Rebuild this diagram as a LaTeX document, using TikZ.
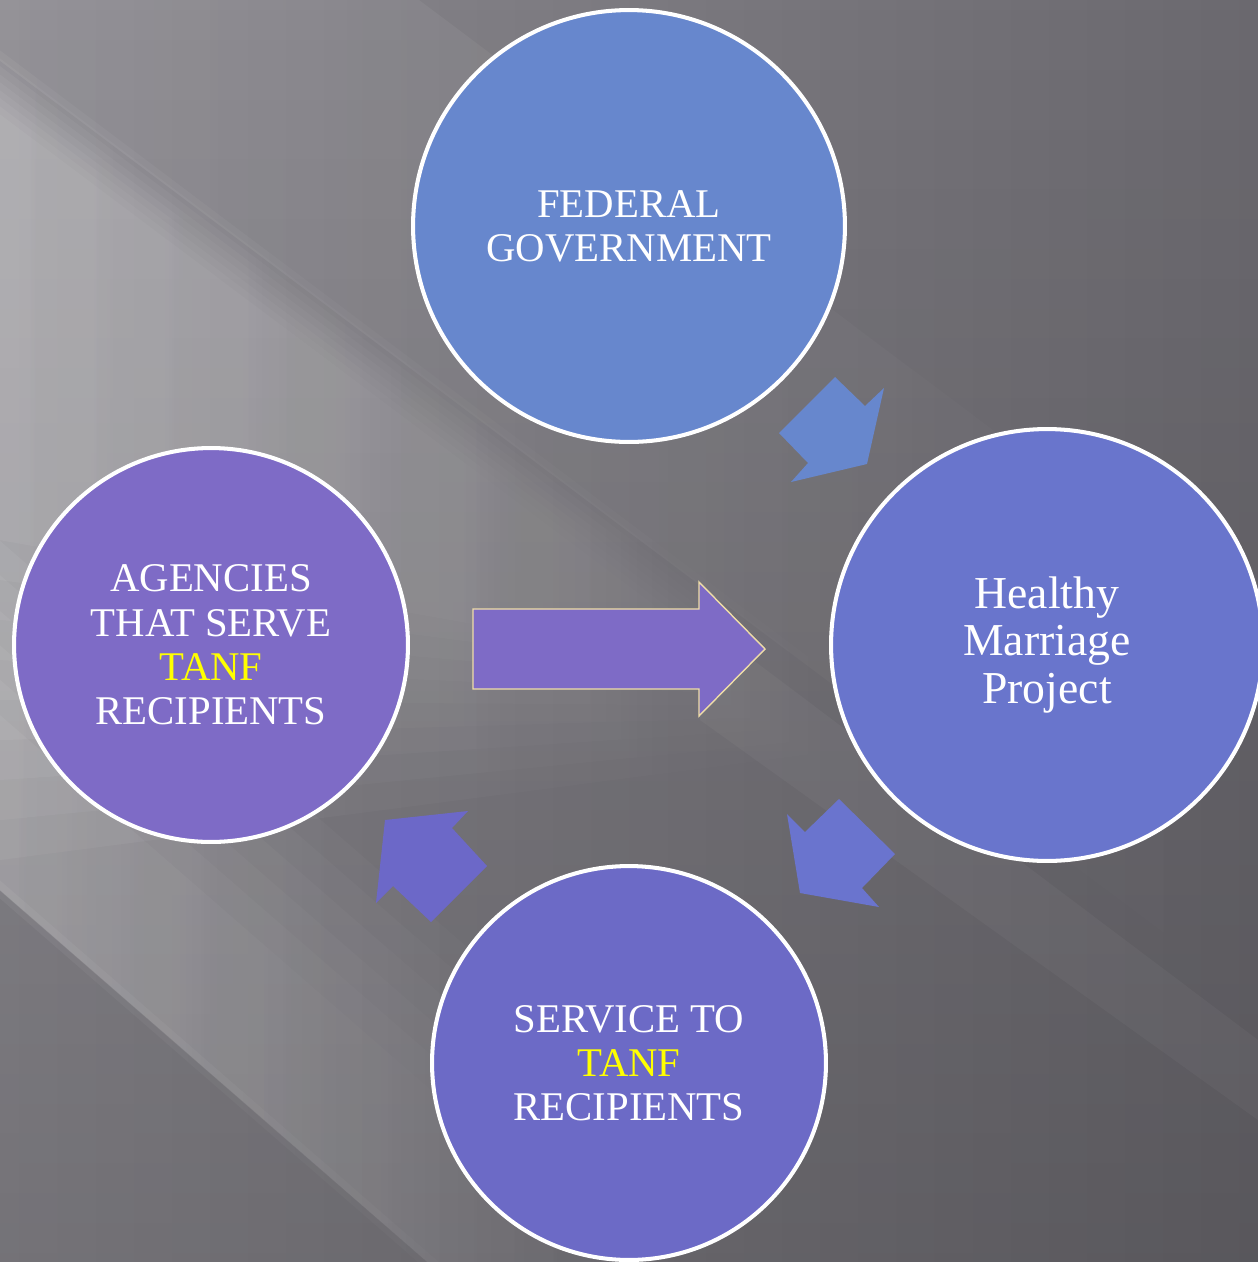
\documentclass[tikz,border=0pt]{standalone}
\usepackage{fontspec}
\setmainfont{Liberation Serif}
\usetikzlibrary{fadings}
\definecolor{bgL}{HTML}{8C8A90}
\definecolor{bgR}{HTML}{6B696F}
\definecolor{cTop}{HTML}{6787CD}
\definecolor{cRight}{HTML}{6975CC}
\definecolor{cLeft}{HTML}{7E6BC6}
\definecolor{cBottom}{HTML}{6C6AC6}
\definecolor{aTwo}{HTML}{6A74CE}
\definecolor{aThree}{HTML}{6C68C8}
\definecolor{rim}{HTML}{EFDDA8}
\definecolor{tanf}{HTML}{FFFF00}
\tikzfading[name=fadelate, left color=transparent!0, middle color=transparent!10, right color=transparent!100]
\begin{document}
\begin{tikzpicture}[x=0.02cm,y=-0.02cm,
  circ/.style={circle, draw=white, line width=2.3pt, text=white, align=center,
    inner sep=0pt, font=\fontsize{23.2}{25.2}\selectfont},
  bigc/.style={circ, minimum size=8.64cm},
  smallc/.style={circ, minimum size=7.88cm},
  band/.style={fill=white, fill opacity=#1}]
\path[use as bounding box] (0,0) rectangle (1258,1262);
\begin{scope}
  \clip (0,0) rectangle (1258,1262);
  % base background
  \shade[left color=bgL, right color=bgR] (0,0) rectangle (1258,1262);
  \fill[black, path fading=north, fill opacity=0.17] (0,0) rectangle (1258,1262);
  % faint upper band
  \fill[band=0.08, path fading=east] (0,-315) -- (1258,628) -- (1258,1003) -- (0,60) -- cycle;
  % main light wedge converging towards the centre arrow
  \foreach \k in {0,...,8} {
    \pgfmathsetmacro{\ct}{50+8*\k}
    \pgfmathsetmacro{\cb}{860-40*\k}
    \pgfmathsetmacro{\xt}{920-22*\k}
    \pgfmathsetmacro{\yt}{\ct+0.75*\xt}
    \fill[band=0.047, path fading=fadelate] (0,\ct) -- (\xt,\yt) -- (0,\cb) -- cycle;
  }
  % lower light band with a bright lower edge
  \foreach \k in {0,...,5} {
    \pgfmathsetmacro{\ct}{540+35*\k}
    \pgfmathsetmacro{\xe}{760-45*\k}
    \pgfmathsetmacro{\ya}{\ct+0.87*\xe}
    \pgfmathsetmacro{\yb}{890+0.87*\xe}
    \fill[band=0.05, path fading=east] (0,\ct) -- (\xe,\ya) -- (\xe,\yb) -- (0,890) -- cycle;
  }
  \fill[band=0.05, path fading=east] (0,880) -- (700,1489) -- (700,1507) -- (0,898) -- cycle;
  % faint streak continuing to the lower right
  \fill[band=0.035] (700,620) -- (1258,1040) -- (1258,1120) -- (700,720) -- cycle;

  % circles
  \node[bigc, fill=cTop] (fed) at (629,226) {FEDERAL\\GOVERNMENT};
  \node[bigc, fill=cRight, font=\fontsize{26}{26.8}\selectfont] (hmp) at (1047,645) {Healthy\\Marriage\\Project};
  \node[smallc, fill=cLeft] (agency) at (211,645) {AGENCIES\\THAT SERVE\\\textcolor{tanf}{TANF}\\RECIPIENTS};
  \node[smallc, fill=cBottom] (service) at (629,1063) {SERVICE TO\\\textcolor{tanf}{TANF}\\RECIPIENTS};
\end{scope}

% block arrows between circles
\fill[cTop] (835,377) -- (865,406) -- (884,388) -- (867,464) -- (791,482) -- (808,463) -- (779,433) -- cycle;
\fill[aTwo] (839,799) -- (895,854) -- (862,888) -- (879,907) -- (800,893) -- (787,814) -- (805,832) -- cycle;
\fill[aThree] (468,811) -- (452,828) -- (487,866) -- (431,922) -- (393,886) -- (376,903) -- (385,820) -- cycle;

% center arrow
\filldraw[fill=cLeft, draw=rim, line width=0.8pt, line join=miter]
  (473,609) -- (699,609) -- (699,582) -- (765,649) -- (699,716) -- (699,689) -- (473,689) -- cycle;
\end{tikzpicture}
\end{document}
